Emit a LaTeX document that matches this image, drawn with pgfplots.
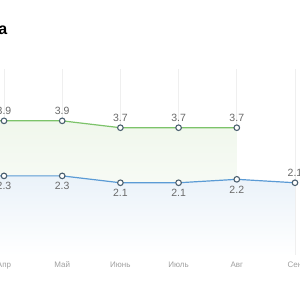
\documentclass[border=0pt]{standalone}
\usepackage{pgfplots}
\pgfplotsset{compat=1.18}
\usepackage{fontspec}
\setmainfont{Liberation Sans}
\definecolor{gline}{HTML}{7CC36A}
\definecolor{bline}{HTML}{5B9BD5}
\definecolor{mk}{HTML}{4B6070}
\definecolor{lab}{HTML}{6A6A6A}
\definecolor{tick}{HTML}{A0A0A0}
\definecolor{grd}{HTML}{EFEFEF}
\definecolor{gfill}{HTML}{F0F7EC}
\definecolor{bfill}{HTML}{EAF2F9}
\begin{document}
\begin{tikzpicture}[x=1pt,y=1pt]
\path[use as bounding box, clip] (0,0) rectangle (300,300);
\fill[white] (0,0) rectangle (300,300);
\node[anchor=base east, inner sep=0pt, font=\bfseries\fontsize{16}{18}\selectfont] at (7.5,265) {а};
\begin{axis}[
  scale only axis,
  width=465.6pt, height=185.76pt,
  at={(-112.4pt,45pt)}, anchor=south west,
  xmin=-2, xmax=6, ymin=0, ymax=5.4,
  axis line style={draw=none},
  xtick={-1,0,1,2,3,4,5},
  xticklabels={Мар,Апр,Май,Июнь,Июль,Авг,Сен},
  x tick label style={font=\fontsize{8}{9}\selectfont, text=tick, yshift=-3pt},
  ytick=\empty,
  major tick length=0pt,
  xmajorgrids, grid style={grd, line width=0.8pt},
  clip=false,
  point meta=explicit symbolic,
  nodes near coords style={font=\fontsize{10.5}{12}\selectfont, text=lab},
]
% fills
\addplot[draw=none, top color=gfill, bottom color=white]
  coordinates {(-1,3.9) (0,3.9) (1,3.9) (2,3.7) (3,3.7) (4,3.7)} \closedcycle;
\addplot[draw=none, top color=bfill, bottom color=white]
  coordinates {(-1,2.3) (0,2.3) (1,2.3) (2,2.1) (3,2.1) (4,2.2) (5,2.1)} \closedcycle;
% lines
\addplot[gline, line width=1.2pt, no marks]
  coordinates {(-1,3.9) (0,3.9) (1,3.9) (2,3.7) (3,3.7) (4,3.7)};
\addplot[bline, line width=1.2pt, no marks]
  coordinates {(-1,2.3) (0,2.3) (1,2.3) (2,2.1) (3,2.1) (4,2.2) (5,2.1)};
% marks + labels
\addplot[only marks, mark=*, mark size=2.8pt, mark options={fill=white, draw=mk, line width=1.1pt},
  nodes near coords, nodes near coords align={above}, every node near coord/.append style={yshift=2.5pt}]
  coordinates {(-1,3.9)[3.9] (0,3.9)[3.9] (1,3.9)[3.9] (2,3.7)[3.7] (3,3.7)[3.7] (4,3.7)[3.7]};
\addplot[only marks, mark=*, mark size=2.8pt, mark options={fill=white, draw=mk, line width=1.1pt},
  nodes near coords, nodes near coords align={below}, every node near coord/.append style={yshift=-2.5pt}]
  coordinates {(-1,2.3)[2.3] (0,2.3)[2.3] (1,2.3)[2.3] (2,2.1)[2.1] (3,2.1)[2.1] (4,2.2)[2.2]};
\addplot[only marks, mark=*, mark size=2.8pt, mark options={fill=white, draw=mk, line width=1.1pt},
  nodes near coords, nodes near coords align={above}, every node near coord/.append style={yshift=2.5pt}]
  coordinates {(5,2.1)[2.1]};
\end{axis}
\end{tikzpicture}
\end{document}
